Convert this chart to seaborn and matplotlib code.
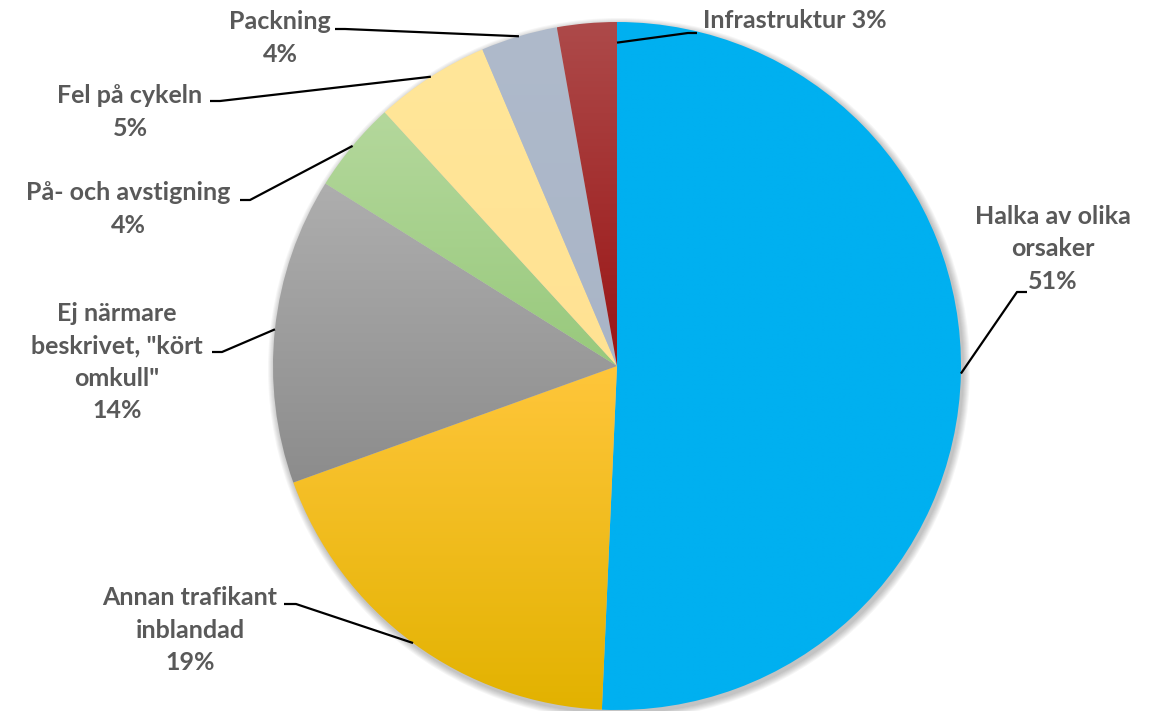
import matplotlib
matplotlib.use("Agg")
import matplotlib.pyplot as plt
import seaborn as sns
import numpy as np
from matplotlib.colors import LinearSegmentedColormap
from matplotlib.patches import Circle

# Data
labels = ['Halka av olika\norsaker', 'Annan trafikant\ninblandad',
          'Ej närmare\nbeskrivet, "kört\nomkull"', 'På- och avstigning',
          'Fel på cykeln', 'Packning', 'Infrastruktur']
values = [50.7, 18.8, 14.4, 4.3, 5.4, 3.6, 2.8]
# gradient colours per slice (top, bottom)
col_top = ['#00B0F0', '#FFC63B', '#AEAEAE', '#B4D89C', '#FFE699', '#AFBACB', '#AD4A4A']
col_bot = ['#00B0F0', '#E2B200', '#8C8C8C', '#98C97C', '#FFE293', '#A9B5C7', '#9A1515']

sns.set_theme(style="white")
plt.rcParams['font.family'] = ['Lato', 'DejaVu Sans']

W, H = 1153, 711
fig = plt.figure(figsize=(W / 100, H / 100), dpi=100)
ax = fig.add_axes([0, 0, 1, 1])

cx, cy, r = 617, H - 366, 344

# soft shadow
for i in range(7):
    ax.add_patch(Circle((cx + 2, cy - 3), r + 1 + i, color='black', alpha=0.035, lw=0, zorder=0))

wedges, _ = ax.pie(values, startangle=90, counterclock=False, center=(cx, cy),
                   radius=r, frame=True, wedgeprops=dict(linewidth=0))
for w, ct, cb in zip(wedges, col_top, col_bot):
    w.set_facecolor('none')
    w.set_zorder(1)
    ext = w.get_path().get_extents()
    cmap = LinearSegmentedColormap.from_list('g', [cb, ct])
    grad = np.linspace(0, 1, 256).reshape(-1, 1)
    im = ax.imshow(grad, extent=[ext.x0, ext.x1, ext.y0, ext.y1], cmap=cmap,
                   origin='lower', aspect='auto', zorder=2, interpolation='bilinear')
    im.set_clip_path(w)

ax.set_xlim(0, W)
ax.set_ylim(0, H)
ax.axis('off')

# label layout: text position (px from top-left), alignment, stub start/end, anchor tweak
layout = [
    dict(tx=1053, ty=249, ha='center', stub=[(1027, 292), (1017, 292)], frac=0.5, rf=1.0, inline=False),
    dict(tx=190, ty=630, ha='center', stub=[(284, 604), (296, 604)], frac=0.5, rf=1.0, inline=False),
    dict(tx=117, ty=362, ha='center', stub=[(212, 352), (222, 352)], frac=0.5, rf=1.0, inline=False),
    dict(tx=128, ty=209, ha='center', stub=[(240, 200), (250, 200)], frac=0.5, rf=1.0, inline=False),
    dict(tx=130, ty=112, ha='center', stub=[(210, 101), (220, 101)], frac=0.5, rf=1.0, inline=False),
    dict(tx=280, ty=38, ha='center', stub=[(335, 29), (345, 29)], frac=0.5, rf=1.0, inline=False),
    dict(tx=703, ty=21, ha='left', stub=[(697, 33), (688, 33)], frac=0.0, rf=0.94, inline=True),
]

total = sum(values)
for w, lab, v, lo in zip(wedges, labels, values, layout):
    pct = f"{round(v / total * 100)}%"
    txt = f"{lab} {pct}" if lo['inline'] else f"{lab}\n{pct}"
    ax.text(lo['tx'], H - lo['ty'], txt, ha=lo['ha'], va='center', multialignment='center',
            fontsize=18, fontweight='bold', color='#595959', linespacing=1.5, zorder=5)
    ang = np.deg2rad(w.theta1 + lo['frac'] * (w.theta2 - w.theta1))
    ax_, ay_ = cx + lo['rf'] * r * np.cos(ang), cy + lo['rf'] * r * np.sin(ang)
    (s0x, s0y), (s1x, s1y) = lo['stub']
    ax.plot([s0x, s1x, ax_], [H - s0y, H - s1y, ay_], color='black', lw=1.6, zorder=4,
            solid_capstyle='butt')

fig.savefig('out.png', dpi=100)
